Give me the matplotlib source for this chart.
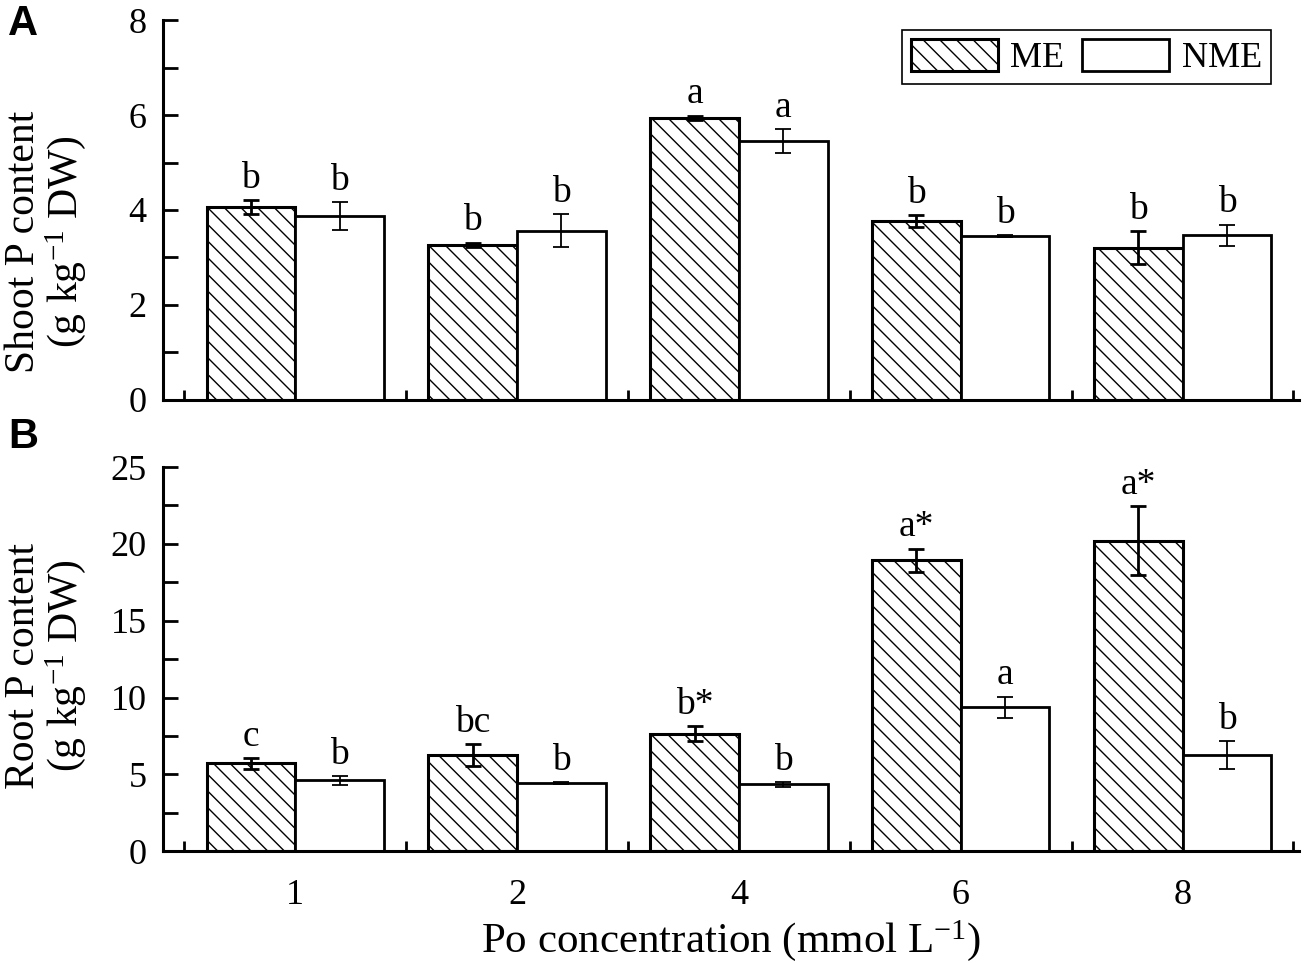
import numpy as np
import matplotlib
matplotlib.use('Agg')
import matplotlib.pyplot as plt
from matplotlib.ticker import MultipleLocator, FixedLocator

plt.rcParams['font.family'] = ['Liberation Serif', 'DejaVu Serif']
plt.rcParams['mathtext.fontset'] = 'custom'
plt.rcParams['mathtext.rm'] = 'Liberation Serif'
plt.rcParams['mathtext.it'] = 'Liberation Serif:italic'
plt.rcParams['hatch.linewidth'] = 1.0

# data
conc = ['1', '2', '4', '6', '8']

shoot_me = [4.06, 3.26, 5.94, 3.77, 3.20]
shoot_me_err = [0.15, 0.05, 0.05, 0.12, 0.35]
shoot_nme = [3.87, 3.56, 5.45, 3.45, 3.47]
shoot_nme_err = [0.30, 0.35, 0.25, 0.02, 0.22]
shoot_me_lab = ['b', 'b', 'a', 'b', 'b']
shoot_nme_lab = ['b', 'b', 'a', 'b', 'b']

root_me = [5.73, 6.25, 7.65, 18.95, 20.2]
root_me_err = [0.35, 0.70, 0.50, 0.75, 2.25]
root_nme = [4.62, 4.43, 4.36, 9.37, 6.25]
root_nme_err = [0.30, 0.05, 0.15, 0.70, 0.90]
root_me_lab = ['c', 'bc', 'b*', 'a*', 'a*']
root_nme_lab = ['b', 'b', 'b', 'a', 'b']

x = np.arange(len(conc))
w = 0.4

fig = plt.figure(figsize=(13.06, 9.63), dpi=100)
axA = fig.add_axes([0.125, 0.585, 0.870, 0.394])
axB = fig.add_axes([0.125, 0.116, 0.870, 0.399])


def draw(ax, me, me_err, nme, nme_err, me_lab, nme_lab, ymax, major, minor, ylab):
    ax.bar(x - w/2, me, w, color='white', edgecolor='black', hatch='\\\\', linewidth=2.2, label='ME')
    ax.bar(x + w/2, nme, w, color='white', edgecolor='black', linewidth=2, label='NME')
    ax.errorbar(x - w/2, me, yerr=me_err, fmt='none', ecolor='black', elinewidth=2, capsize=6, capthick=2)
    ax.errorbar(x + w/2, nme, yerr=nme_err, fmt='none', ecolor='black', elinewidth=1.3, capsize=6, capthick=1.3)
    for i in range(len(x)):
        ax.annotate(me_lab[i], (x[i] - w/2, me[i] + me_err[i]), xytext=(0, 3), textcoords='offset points',
                    ha='center', va='bottom', fontsize=27)
        ax.annotate(nme_lab[i], (x[i] + w/2, nme[i] + nme_err[i]), xytext=(0, 3), textcoords='offset points',
                    ha='center', va='bottom', fontsize=27)
    ax.set_xlim(-0.595, 4.527)
    ax.set_ylim(0, ymax)
    ax.yaxis.set_major_locator(MultipleLocator(major))
    ax.yaxis.set_minor_locator(MultipleLocator(minor))
    ax.xaxis.set_major_locator(FixedLocator(x))
    ax.xaxis.set_minor_locator(FixedLocator(np.arange(-0.5, 5, 1)))
    ax.tick_params(axis='y', which='both', direction='in', length=11, width=2, labelsize=26, pad=12)
    ax.tick_params(axis='x', which='major', length=0, labelsize=26, pad=20)
    ax.tick_params(axis='x', which='minor', direction='in', length=7, width=2)
    for s in ['top', 'right']:
        ax.spines[s].set_visible(False)
    for s in ['left', 'bottom']:
        ax.spines[s].set_linewidth(2.2)
    ax.set_ylabel(ylab, fontsize=30, linespacing=1.0)


draw(axA, shoot_me, shoot_me_err, shoot_nme, shoot_nme_err, shoot_me_lab, shoot_nme_lab,
     8, 2, 1, 'Shoot P content\n(g kg$^{-1}$ DW)')
draw(axB, root_me, root_me_err, root_nme, root_nme_err, root_me_lab, root_nme_lab,
     25, 5, 2.5, 'Root P content\n(g kg$^{-1}$ DW)')
axA.yaxis.set_label_coords(-0.066, 0.416)
axB.yaxis.set_label_coords(-0.066, 0.482)

axA.set_xticklabels([])
axB.set_xticklabels(conc)
axB.set_xlabel('Po concentration (mmol L$^{-1}$)', fontsize=31, labelpad=4)

leg = axA.legend(loc='upper right', bbox_to_anchor=(0.975, 0.975), borderaxespad=0, ncol=2,
                 fontsize=26, handlelength=2.4, handleheight=1.0, handletextpad=0.35,
                 columnspacing=0.5, fancybox=False, edgecolor='black', framealpha=1,
                 borderpad=0.25)
leg.get_frame().set_linewidth(1.2)

fig.text(0.006, 0.975, 'A', fontsize=30, fontweight='bold', family='Liberation Sans', va='center')
fig.text(0.006, 0.546, 'B', fontsize=30, fontweight='bold', family='Liberation Sans', va='center')

fig.savefig('out.png', dpi=100)
